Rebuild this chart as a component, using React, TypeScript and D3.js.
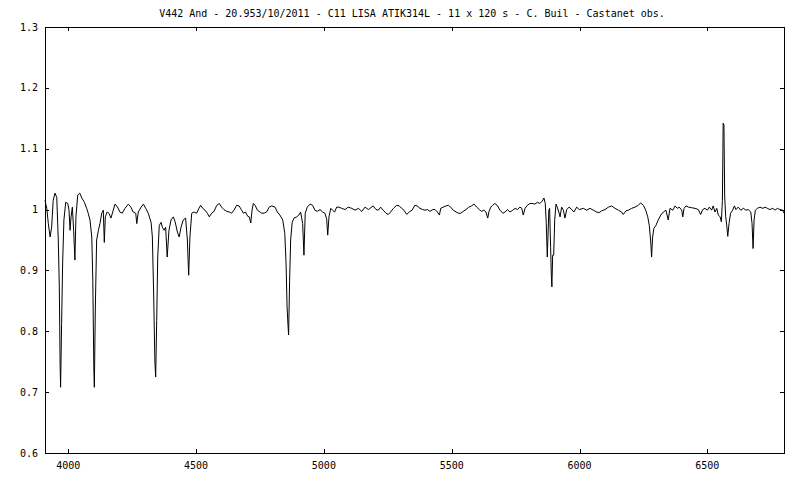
import React from "react";
import * as d3 from "d3";

const title = "V442 And - 20.953/10/2011 - C11 LISA ATIK314L - 11 x 120 s - C. Buil - Castanet obs.";
const xTicks = [4000, 4500, 5000, 5500, 6000, 6500];
const yTicks = [0.6, 0.7, 0.8, 0.9, 1.0, 1.1, 1.2, 1.3];
const yTickLabels = ["0.6", "0.7", "0.8", "0.9", "1", "1.1", "1.2", "1.3"];

const wavelength = [
  3909, 3916, 3922, 3929, 3935, 3941, 3948, 3955, 3961, 3965, 3968, 3970, 3974, 3978, 3983, 3990, 3998,
  4003, 4007, 4011, 4016, 4021, 4026, 4030, 4037, 4045, 4053, 4063, 4072, 4078, 4085, 4092, 4096, 4100,
  4102, 4106, 4111, 4118, 4124, 4131, 4137, 4141, 4145, 4152, 4159, 4167, 4176, 4183, 4193, 4202, 4211,
  4222, 4235, 4245, 4254, 4264, 4268, 4274, 4285, 4294, 4303, 4313, 4324, 4329, 4334, 4339, 4342, 4346,
  4350, 4356, 4363, 4368, 4375, 4381, 4387, 4394, 4402, 4411, 4418, 4427, 4434, 4441, 4450, 4459, 4466,
  4471, 4476, 4483, 4492, 4502, 4511, 4518, 4526, 4535, 4544, 4552, 4561, 4570, 4581, 4591, 4600, 4609,
  4620, 4630, 4639, 4648, 4659, 4668, 4677, 4685, 4693, 4702, 4708, 4714, 4719, 4724, 4731, 4740, 4747,
  4757, 4766, 4776, 4786, 4796, 4809, 4818, 4828, 4839, 4847, 4852, 4856, 4860, 4862, 4866, 4870, 4876,
  4883, 4894, 4902, 4909, 4917, 4922, 4927, 4935, 4946, 4956, 4965, 4974, 4985, 4995, 5004, 5011, 5015,
  5020, 5027, 5034, 5042, 5050, 5059, 5070, 5083, 5095, 5109, 5122, 5135, 5148, 5161, 5174, 5180, 5193,
  5204, 5213, 5222, 5232, 5243, 5252, 5261, 5272, 5285, 5295, 5304, 5313, 5324, 5334, 5345, 5356, 5365,
  5376, 5387, 5396, 5405, 5415, 5426, 5435, 5444, 5452, 5457, 5467, 5478, 5487, 5496, 5506, 5517, 5526,
  5535, 5545, 5556, 5567, 5578, 5587, 5598, 5608, 5617, 5626, 5634, 5641, 5646, 5653, 5660, 5669, 5678,
  5689, 5700, 5709, 5718, 5728, 5739, 5748, 5757, 5767, 5774, 5780, 5787, 5796, 5806, 5817, 5826, 5835,
  5845, 5854, 5861, 5866, 5870, 5874, 5880, 5883, 5887, 5890, 5892, 5895, 5899, 5903, 5908, 5913, 5919,
  5924, 5930, 5937, 5943, 5950, 5959, 5970, 5978, 5989, 5999, 6015, 6028, 6041, 6054, 6067, 6077, 6087,
  6100, 6113, 6126, 6139, 6152, 6165, 6171, 6182, 6191, 6204, 6217, 6230, 6239, 6250, 6259, 6267, 6273,
  6279, 6282, 6286, 6291, 6299, 6308, 6318, 6328, 6338, 6347, 6354, 6365, 6374, 6383, 6390, 6400, 6404,
  6409, 6417, 6426, 6439, 6452, 6465, 6474, 6482, 6491, 6500, 6508, 6517, 6523, 6530, 6537, 6543, 6550,
  6555, 6559, 6561, 6562, 6565, 6568, 6572, 6576, 6580, 6585, 6591, 6599, 6606, 6612, 6621, 6631, 6641,
  6651, 6660, 6670, 6675, 6679, 6683, 6688, 6696, 6706, 6717, 6726, 6735, 6745, 6756, 6765, 6774, 6784,
  6795, 6800,
];

const flux = [
  1.015, 1.002, 0.977, 0.955, 0.971, 1.015, 1.027, 1.02, 0.95, 0.873, 0.748, 0.708, 0.813, 0.912, 0.983, 1.012, 1.01,
  0.999, 0.966, 0.988, 1.004, 0.966, 0.917, 0.988, 1.024, 1.027, 1.019, 1.012, 1.002, 0.994, 0.983, 0.955, 0.884, 0.741,
  0.708, 0.84, 0.95, 0.966, 0.977, 0.994, 0.999, 0.946, 0.988, 0.996, 0.994, 0.986, 0.999, 1.009, 1.004, 0.996, 0.994,
  1.002, 1.009, 1.004, 0.996, 0.994, 0.977, 0.996, 1.004, 1.009, 1.002, 0.994, 0.979, 0.955, 0.863, 0.748, 0.725, 0.818,
  0.922, 0.974, 0.979, 0.971, 0.966, 0.971, 0.922, 0.966, 0.983, 0.988, 0.98, 0.963, 0.955, 0.971, 0.983, 0.986, 0.95,
  0.892, 0.955, 0.994, 0.996, 0.994, 1.002, 1.007, 1.002, 0.999, 0.994, 0.988, 0.994, 0.997, 1.007, 1.01, 1.004, 1.0,
  0.997, 0.996, 0.994, 0.999, 1.007, 1.006, 1.0, 0.994, 0.996, 0.989, 0.988, 0.978, 0.999, 1.01, 1.007, 0.999, 0.997,
  0.994, 0.994, 0.996, 1.004, 1.006, 1.004, 0.996, 0.991, 0.983, 0.961, 0.912, 0.84, 0.807, 0.794, 0.884, 0.95, 0.979,
  0.986, 0.988, 0.991, 0.996, 0.977, 0.925, 0.994, 1.004, 1.009, 1.007, 0.999, 0.997, 1.0, 0.996, 0.994, 0.984, 0.958,
  0.988, 1.002, 0.999, 0.996, 1.004, 1.004, 1.002, 1.0, 1.004, 1.002, 0.999, 1.002, 0.997, 1.004, 1.0, 1.002, 1.006,
  1.0, 0.999, 1.004, 0.999, 0.994, 0.992, 0.996, 1.002, 1.007, 1.006, 1.002, 0.999, 0.992, 0.996, 0.999, 1.007, 1.006,
  1.002, 1.0, 0.999, 1.0, 0.997, 1.0, 1.0, 0.996, 0.991, 1.002, 1.004, 1.006, 1.007, 1.004, 0.999, 0.996, 0.994,
  0.994, 0.997, 1.0, 1.004, 1.006, 1.009, 1.004, 1.0, 0.997, 0.999, 0.996, 0.986, 0.997, 1.004, 1.007, 1.01, 1.007,
  0.999, 0.994, 0.996, 1.0, 0.996, 0.999, 1.002, 1.0, 1.004, 1.002, 0.991, 1.002, 1.007, 1.01, 1.01, 1.009, 1.012,
  1.01, 1.014, 1.019, 1.01, 0.977, 0.922, 0.999, 1.002, 0.938, 0.889, 0.873, 0.925, 0.925, 0.983, 1.009, 1.004, 0.996,
  0.988, 1.004, 0.999, 0.986, 1.0, 1.004, 1.0, 0.996, 1.004, 1.0, 1.002, 0.999, 1.002, 0.999, 0.996, 0.995, 0.998,
  1.0, 1.004, 1.006, 1.002, 0.999, 0.996, 0.992, 0.998, 0.999, 1.002, 1.004, 1.007, 1.011, 1.007, 0.999, 0.988, 0.974,
  0.945, 0.922, 0.955, 0.969, 0.974, 0.983, 0.991, 0.996, 0.999, 0.983, 1.002, 0.999, 1.006, 1.002, 1.004, 0.999, 0.988,
  1.002, 1.006, 1.004, 1.003, 1.002, 1.0, 0.992, 1.0, 1.002, 0.999, 1.004, 0.999, 1.006, 0.996, 1.002, 0.991, 0.988,
  0.98, 1.015, 1.097, 1.142, 1.139, 1.021, 0.988, 0.974, 0.956, 0.977, 0.994, 0.999, 1.006, 1.0, 1.004, 0.999, 1.002,
  0.999, 1.0, 0.996, 0.977, 0.936, 0.983, 0.999, 1.002, 1.004, 1.002, 1.004, 1.002, 1.0, 1.002, 0.999, 1.002, 1.0,
  0.999, 0.994,
];

const W = 800;
const H = 480;
const left = 45;
const right = 784;
const top = 27;
const bottom = 453;
const font = "'DejaVu Sans Mono', monospace";

export default function App() {
  const x = d3.scaleLinear().domain([3909, 6800]).range([left, right]);
  const y = d3.scaleLinear().domain([0.6, 1.3]).range([bottom, top]);
  const pts = wavelength.map((w, i) => [w, flux[i]] as [number, number]);
  const line = d3
    .line<[number, number]>()
    .x((d) => x(d[0]))
    .y((d) => y(d[1]));

  const tl = 4;
  return (
    <svg
      width={W}
      height={H}
      style={{ position: "absolute", left: 0, top: 0, background: "#fff" }}
    >
      <rect x={0} y={0} width={W} height={H} fill="#fff" />
      <text x={412} y={17} textAnchor="middle" fontFamily={font} fontSize={10} fill="#000">
        {title}
      </text>
      <g shapeRendering="crispEdges" stroke="#000" strokeWidth={1}>
        {xTicks.map((t) => (
          <g key={t}>
            <line x1={Math.round(x(t)) + 0.5} x2={Math.round(x(t)) + 0.5} y1={bottom} y2={bottom - tl} />
            <line x1={Math.round(x(t)) + 0.5} x2={Math.round(x(t)) + 0.5} y1={top} y2={top + tl} />
          </g>
        ))}
        {yTicks.map((t) => (
          <g key={t}>
            <line x1={left} x2={left + tl} y1={Math.round(y(t)) + 0.5} y2={Math.round(y(t)) + 0.5} />
            <line x1={right} x2={right - tl} y1={Math.round(y(t)) + 0.5} y2={Math.round(y(t)) + 0.5} />
          </g>
        ))}
        <rect x={left + 0.5} y={top + 0.5} width={right - left} height={bottom - top} fill="none" />
      </g>
      {xTicks.map((t) => (
        <text key={t} x={x(t)} y={bottom + 16} textAnchor="middle" fontFamily={font} fontSize={10} fill="#000">
          {t}
        </text>
      ))}
      {yTicks.map((t, i) => (
        <text key={t} x={38} y={y(t) + 3.5} textAnchor="end" fontFamily={font} fontSize={10} fill="#000">
          {yTickLabels[i]}
        </text>
      ))}
      <path d={line(pts) || ""} fill="none" stroke="#000" strokeWidth={1} strokeLinejoin="miter" />
    </svg>
  );
}
